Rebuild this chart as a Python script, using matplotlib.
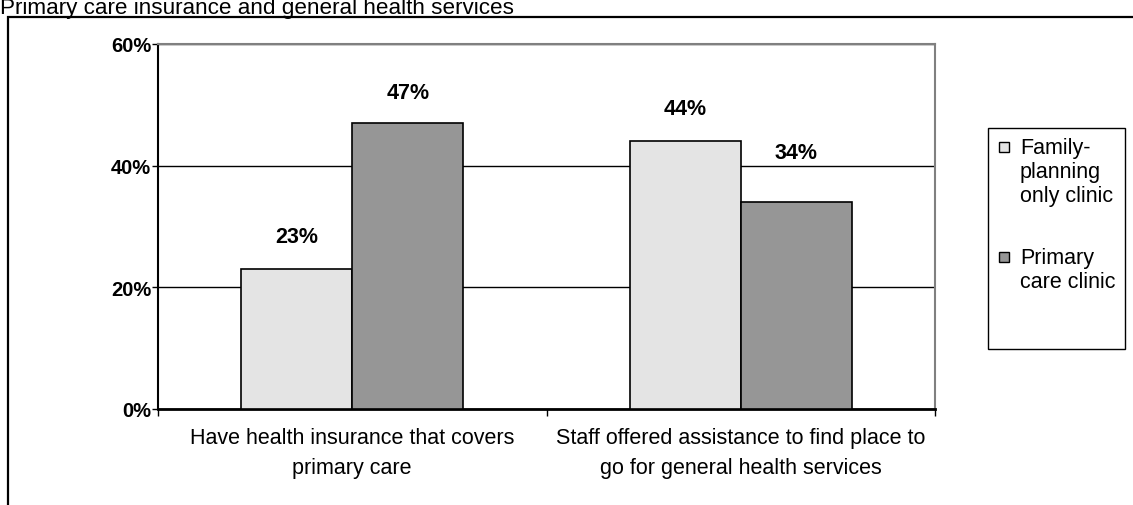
import matplotlib
matplotlib.use("Agg")
import matplotlib.pyplot as plt
from matplotlib.patches import Rectangle
import numpy as np

plt.rcParams['font.family'] = ['Liberation Sans', 'DejaVu Sans']

# survey results (share of respondents)
categories = ["Have health insurance that covers\nprimary care",
              "Staff offered assistance to find place to\ngo for general health services"]
series_names = ["Family-\nplanning\nonly clinic", "Primary\ncare clinic"]
family_planning = [0.23, 0.44]
primary_care = [0.47, 0.34]
yticks = [0, 0.2, 0.4, 0.6]
ytick_labels = ["0%", "20%", "40%", "60%"]

W, H = 1133, 506
fig = plt.figure(figsize=(W / 100, H / 100), dpi=100)

# outer chart frame, runs off the right and bottom edges
fig.add_artist(Rectangle((8 / W, -0.1), 1.2, 1.1 - 18 / H, transform=fig.transFigure,
                         facecolor="none", edgecolor="black", linewidth=1.6))
fig.text(0.0, 1 - 14 / H, "Primary care insurance and general health services",
         fontsize=16.2, ha="left", va="baseline")

ax = fig.add_axes([158 / W, (H - 410) / H, (935 - 158) / W, 365 / H])
x = np.arange(len(categories))
bw = 0.286
colors = ["#e4e4e4", "#969696"]

b1 = ax.bar(x - bw / 2, family_planning, bw, color=colors[0], edgecolor="black", linewidth=1.2, zorder=3)
b2 = ax.bar(x + bw / 2, primary_care, bw, color=colors[1], edgecolor="black", linewidth=1.2, zorder=3)

# label offsets in points above each bar
offsets = [[23.5, 23.5], [22, 36]]
for bars, vals, offs in ((b1, family_planning, offsets[0]), (b2, primary_care, offsets[1])):
    for r, v, o in zip(bars, vals, offs):
        ax.annotate(f"{round(v * 100)}%", (r.get_x() + r.get_width() / 2, v),
                    xytext=(0, o), textcoords="offset points",
                    ha="center", va="center", fontsize=15.5, fontweight="bold")

ax.set_xlim(-0.5, len(categories) - 0.5)
ax.set_ylim(0, 0.6)
ax.set_yticks(yticks)
ax.set_yticklabels(ytick_labels, fontsize=14.5, fontweight="bold")
ax.tick_params(axis="y", direction="out", length=4, width=1, pad=1)

ax.set_xticks(x)
ax.set_xticklabels(categories, fontsize=15.5, linespacing=1.55)
ax.tick_params(axis="x", length=0, pad=13)
ax.set_xticks(np.arange(len(categories) + 1) - 0.5, minor=True)
ax.tick_params(axis="x", which="minor", direction="out", length=5, width=1)

ax.yaxis.grid(True, color="black", linewidth=1, zorder=0)
for s in ("top", "right"):
    ax.spines[s].set_color("#808080")
    ax.spines[s].set_linewidth(1.5)
ax.spines["left"].set_linewidth(1.5)
ax.spines["bottom"].set_linewidth(2)

# legend box drawn by hand so the swatch sits on the first label line
fig.add_artist(Rectangle((988 / W, 1 - 350 / H), (1125 - 988) / W, (350 - 129) / H,
                         transform=fig.transFigure, facecolor="white",
                         edgecolor="black", linewidth=1))
for i, (name, col) in enumerate(zip(series_names, colors)):
    ymid = [148, 258][i]
    fig.add_artist(Rectangle((999 / W, 1 - (ymid + 5) / H), 10 / W, 10 / H,
                             transform=fig.transFigure, facecolor=col,
                             edgecolor="black", linewidth=1))
    fig.text(1020 / W, 1 - (ymid - 10) / H, name, fontsize=15.5, ha="left", va="top",
             linespacing=1.2)

fig.savefig("out.png", dpi=100)
